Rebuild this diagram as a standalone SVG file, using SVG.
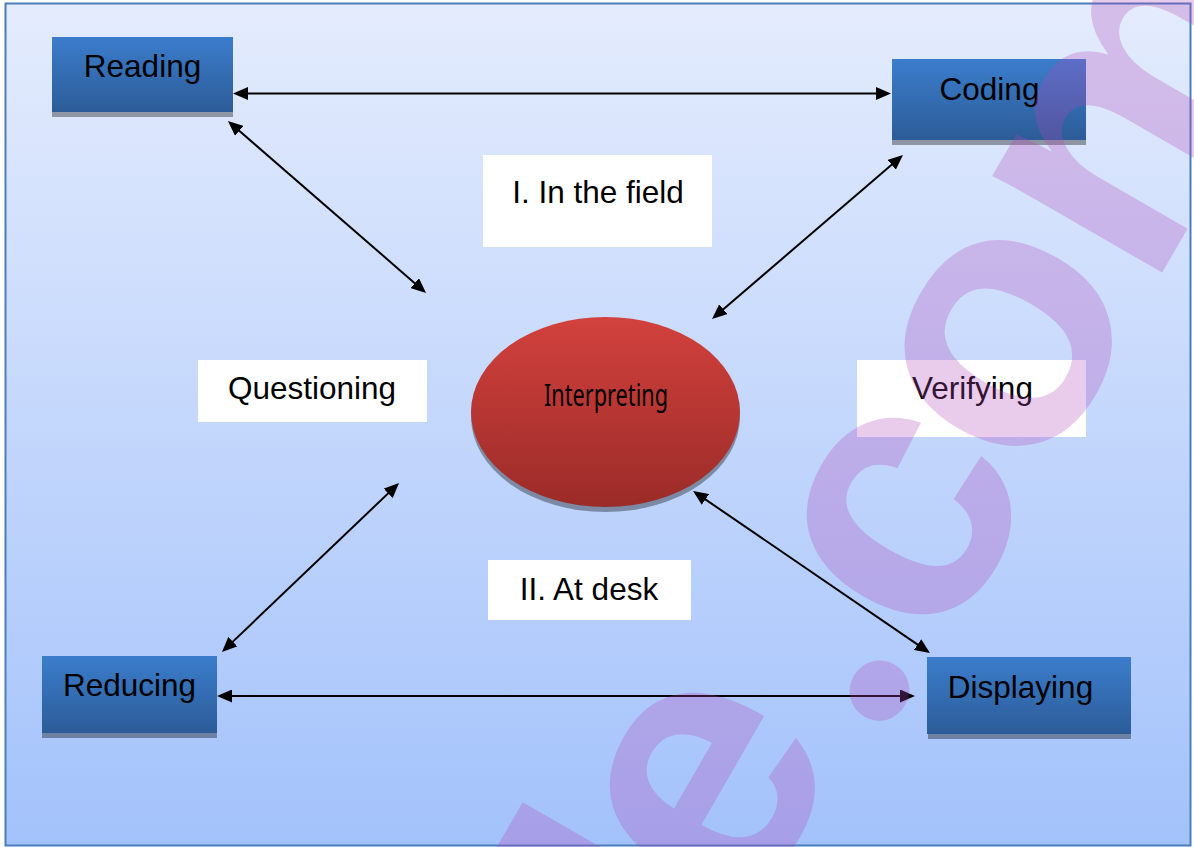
<svg xmlns="http://www.w3.org/2000/svg" width="1194" height="847" viewBox="0 0 1194 847">
  <defs>
    <linearGradient id="bg" x1="0" y1="0" x2="0" y2="1">
      <stop offset="0" stop-color="#e4ecfd"/>
      <stop offset="1" stop-color="#a3c2fb"/>
    </linearGradient>
    <linearGradient id="blue" x1="0" y1="0" x2="0" y2="1">
      <stop offset="0" stop-color="#3b7dcc"/>
      <stop offset="1" stop-color="#2c5c98"/>
    </linearGradient>
    <linearGradient id="red" x1="0" y1="0" x2="0" y2="1">
      <stop offset="0" stop-color="#d2413d"/>
      <stop offset="1" stop-color="#9b2b28"/>
    </linearGradient>
    <marker id="arr" markerUnits="userSpaceOnUse" markerWidth="15" markerHeight="13" viewBox="0 0 15 13" refX="5" refY="6.5" orient="auto-start-reverse">
      <path d="M0,0 L15,6.5 L0,13 z" fill="#000"/>
    </marker>
    <style>
      .box { fill: url(#blue); }
      .shadow { fill: #000; fill-opacity: 0.35; }
      .lbl { font-family: "Liberation Sans", Arial, sans-serif; font-size: 31.5px; fill: #000; text-anchor: middle; }
      .wbox { fill: #fff; }
      .conn { stroke: #000; stroke-width: 2; fill: none; marker-start: url(#arr); marker-end: url(#arr); }
      .wm { font-family: "Liberation Sans", Arial, sans-serif; font-weight: bold; font-size: 370px; fill: rgb(178,72,185); text-anchor: middle; }
      .dot { font-family: Lato, "Noto Sans", sans-serif; font-weight: 900; }
    </style>
  </defs>

  <rect x="0" y="0" width="1194" height="847" fill="#fff"/>
  <rect id="frame" x="5.5" y="3.5" width="1185" height="842" fill="url(#bg)" stroke="#4a7ebb" stroke-width="2"/>

  <g id="label-field">
    <rect class="wbox" x="483" y="155" width="229" height="92"/>
    <text class="lbl" x="598" y="203">I. In the field</text>
  </g>
  <g id="label-questioning">
    <rect class="wbox" x="198" y="360" width="229" height="62"/>
    <text class="lbl" x="312" y="399">Questioning</text>
  </g>
  <g id="label-verifying">
    <rect class="wbox" x="857" y="360" width="229" height="77"/>
    <text class="lbl" x="972.5" y="399">Verifying</text>
  </g>
  <g id="label-desk">
    <rect class="wbox" x="488" y="560" width="203" height="60"/>
    <text class="lbl" x="589" y="600">II. At desk</text>
  </g>

  <g id="connectors">
    <line class="conn" x1="243" y1="93.5" x2="881" y2="93.5"/>
    <line class="conn" x1="235.5" y1="127.6" x2="418.5" y2="286.4"/>
    <line class="conn" x1="895.4" y1="161.5" x2="719.6" y2="312.5"/>
    <line class="conn" x1="391.8" y1="489.9" x2="229.2" y2="645.1"/>
    <line class="conn" x1="701.3" y1="496.6" x2="921.7" y2="647.4"/>
    <line class="conn" x1="227" y1="696" x2="905" y2="696"/>
  </g>

  <g id="node-reading">
    <rect class="shadow" x="52" y="37" width="181" height="80"/>
    <rect class="box" x="52" y="37" width="181" height="75"/>
    <text class="lbl" x="142.5" y="77">Reading</text>
  </g>
  <g id="node-coding">
    <rect class="shadow" x="892" y="59" width="194" height="86"/>
    <rect class="box" x="892" y="59" width="194" height="81"/>
    <text class="lbl" x="989.5" y="100">Coding</text>
  </g>
  <g id="node-reducing">
    <rect class="shadow" x="42" y="656" width="175" height="82"/>
    <rect class="box" x="42" y="656" width="175" height="77"/>
    <text class="lbl" x="129.5" y="696">Reducing</text>
  </g>
  <g id="node-displaying">
    <rect class="shadow" x="928" y="657" width="203" height="82"/>
    <rect class="box" x="927" y="657" width="204" height="77"/>
    <text class="lbl" x="1020.5" y="698">Displaying</text>
  </g>
  <g id="node-interpreting">
    <ellipse cx="605.5" cy="417" rx="134.5" ry="95" fill="#000" fill-opacity="0.35"/>
    <ellipse cx="605.5" cy="412" rx="134.5" ry="95" fill="url(#red)"/>
    <text x="606" y="406" font-family="'Noto Sans', 'Open Sans', sans-serif" font-size="30" fill="#000" text-anchor="middle" textLength="124" lengthAdjust="spacingAndGlyphs">Interpreting</text>
  </g>

  <g id="watermark" opacity="0.28" transform="translate(875,688) rotate(-60)">
    <rect x="-327" y="-248" width="52" height="290" fill="rgb(178,72,185)"/>
    <text class="wm" x="-170 0 162 365 642" y="6 32 41 41 41">e<tspan class="dot">.</tspan>com</text>
  </g>
</svg>
